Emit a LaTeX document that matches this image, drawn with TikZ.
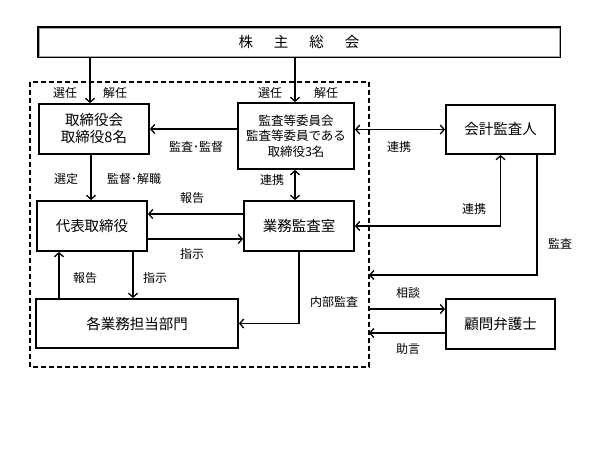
\documentclass[tikz,border=0pt]{standalone}
\usepackage{fontspec}
\setmainfont{Noto Sans CJK JP}
\usetikzlibrary{arrows, arrows.meta}
\usetikzlibrary{positioning}

\begin{document}
\begin{tikzpicture}[x=1pt,y=-1pt]
\tikzstyle{every node}+=[inner sep=0pt, align=center]
\tikzstyle{box}=[draw=black, line width=1.8pt, font=\fontsize{14.5}{17}\selectfont]
\tikzstyle{lbl}=[font=\fontsize{12}{14}\selectfont]
\tikzstyle{arr}=[line width=1.3pt, -{Straight Barb[length=4pt,width=9pt]}]
\tikzstyle{darr}=[line width=1.3pt, {Straight Barb[length=4pt,width=9pt]}-{Straight Barb[length=4pt,width=9pt]}]
\useasboundingbox (0,0) rectangle (600,450);
% shareholders
\node [box, minimum width=522pt, minimum height=30pt] (soukai) at (299,42)
  {株\hspace{21pt}主\hspace{21pt}総\hspace{21pt}会};
\draw [gray!70, line width=0.8pt] ([shift={(1.8pt,-1.8pt)}]soukai.north west) rectangle ([shift={(-1.8pt,1.8pt)}]soukai.south east);
% company group
\draw [black, line width=1.3pt, dash pattern=on 5pt off 3pt] (30,82) rectangle (369,367);
\coordinate (grpKansa) at (369,275);
\coordinate (grpSoudan) at (369,309);
\coordinate (grpJogen) at (369,333);
% boxes
\node [box, minimum width=110pt, minimum height=50pt] (torikai) at (94,129)
  {取締役会\\取締役8名};
\node [box, minimum width=116pt, minimum height=66pt, font=\fontsize{12.5}{15.5}\selectfont] (iinkai) at (296,136)
  {監査等委員会\\監査等委員である\\取締役3名};
\node [box, minimum width=110pt, minimum height=50pt] (daihyo) at (92,226) {代表取締役};
\node [box, minimum width=110pt, minimum height=50pt] (gyomu) at (299,226) {業務監査室};
\node [box, minimum width=109pt, minimum height=49pt] (kaikei) at (500.5,129.5) {会計監査人};
\node [box, minimum width=202pt, minimum height=49pt] (bumon) at (137,323.5) {各業務担当部門};
\node [box, minimum width=109pt, minimum height=50pt] (komon) at (500.5,324) {顧問弁護士};
% connectors
\draw [arr] ([xshift=-4pt]soukai.south -| torikai.north) -- ([xshift=-4pt]torikai.north);
\draw [arr] ([xshift=-1pt]soukai.south -| iinkai.north) -- ([xshift=-1pt]iinkai.north);
\draw [arr] (iinkai.west |- torikai) -- (torikai.east);
\draw [darr] (iinkai.east |- kaikei) -- (kaikei.west);
\draw [arr] ([xshift=-3pt]torikai.south) -- ([xshift=-3pt]torikai.south |- daihyo.north);
\draw [darr] ([xshift=-1pt]iinkai.south) -- ([xshift=-1pt]iinkai.south |- gyomu.north);
\draw [arr] ([yshift=12pt]gyomu.west) -- ([yshift=12pt]gyomu.west -| daihyo.east);
\draw [arr] ([yshift=-13pt]daihyo.east) -- ([yshift=-13pt]daihyo.east -| gyomu.west);
\draw [arr] ([xshift=-33pt]daihyo.south |- bumon.north) -- ([xshift=-33pt]daihyo.south);
\draw [arr] ([xshift=41pt]daihyo.south) -- ([xshift=41pt]daihyo.south |- bumon.north);
\draw [arr] (gyomu.south) |- (bumon.east);
\draw [darr] (gyomu.east) -| (kaikei.south);
\draw [arr] ([xshift=36.5pt]kaikei.south) |- (grpKansa);
\draw [arr] (grpSoudan) -- (grpSoudan -| komon.west);
\draw [arr] (grpJogen -| komon.west) -- (grpJogen);
% labels
\node [lbl] (l1) at (65,93) {選任};
\node [lbl] (l2) at (115,93) {解任};
\node [lbl] (l3) at (270,93) {選任};
\node [lbl] (l4) at (326,93) {解任};
\node [lbl] (l5) at (196,147) {監査･監督};
\node [lbl] (l6) at (66,179) {選定};
\node [lbl] (l7) at (134,179) {監督･解職};
\node [lbl] (l8) at (272,180) {連携};
\node [lbl] (l9) at (192,198) {報告};
\node [lbl] (l10) at (192,254) {指示};
\node [lbl] (l11) at (85,278) {報告};
\node [lbl] (l12) at (155,278) {指示};
\node [lbl] (l13) at (334,302) {内部監査};
\node [lbl] (l14) at (399,147) {連携};
\node [lbl] (l15) at (474,209) {連携};
\node [lbl] (l16) at (560,244) {監査};
\node [lbl] (l17) at (408,293) {相談};
\node [lbl] (l18) at (408,349) {助言};
\end{tikzpicture}
\end{document}
